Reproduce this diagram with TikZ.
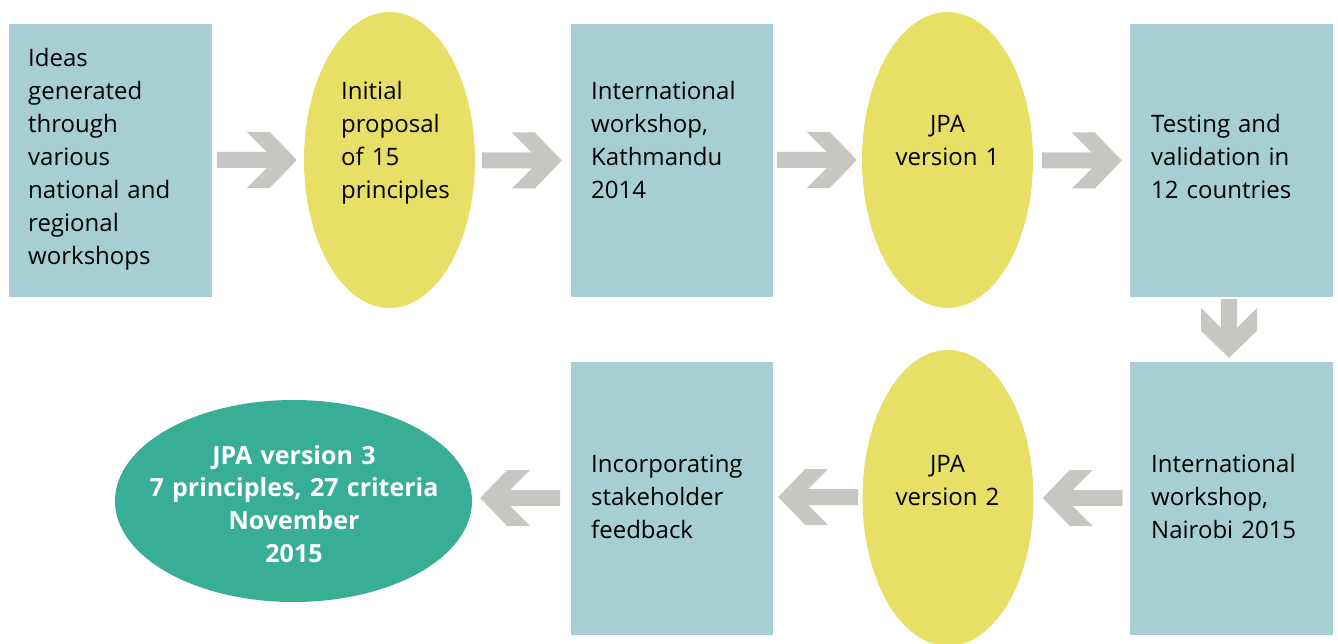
\documentclass[tikz,border=0pt]{standalone}
\usepackage{fontspec}
\setmainfont{Open Sans}
\usetikzlibrary{shapes.geometric,calc}
\definecolor{boxteal}{HTML}{A7CFD3}
\definecolor{ovalyellow}{HTML}{E8DF67}
\definecolor{arrowgray}{HTML}{C7C6C2}
\definecolor{finalgreen}{HTML}{37AE95}
\tikzset{
  tealbox/.style={rectangle, fill=boxteal, draw=none, inner sep=0pt},
  yellowoval/.style={ellipse, fill=ovalyellow, draw=none, inner sep=0pt, minimum width=171pt, minimum height=296pt},
  greenoval/.style={ellipse, fill=finalgreen, draw=none, inner sep=0pt, minimum width=357pt, minimum height=202pt},
  lbl/.style={inner sep=0pt, font=\fontsize{24}{33}\selectfont, text width=190pt, align=left, anchor=base west},
  clbl/.style={inner sep=0pt, font=\fontsize{24}{33}\selectfont, text width=320pt, align=center, anchor=base},
  pics/chev/.style={code={
    \fill[arrowgray] (0,0) -- (-27,-28) -- (-50,-28) -- (-30,-8) -- (-#1,-8) -- (-#1,8) -- (-30,8) -- (-50,28) -- (-27,28) -- cycle;
  }}
}
\begin{document}
\begin{tikzpicture}[x=1pt,y=-1pt]
\useasboundingbox (0,0) rectangle (1338,644);
% shapes
\node[tealbox, minimum width=203pt, minimum height=273pt] (b1) at (110.5,160.5) {};
\node[yellowoval] (e1) at (389.5,160) {};
\node[tealbox, minimum width=202pt, minimum height=273pt] (b2) at (672,160.5) {};
\node[yellowoval] (e2) at (947.5,160) {};
\node[tealbox, minimum width=203pt, minimum height=273pt] (b3) at (1231.5,160.5) {};
\node[tealbox, minimum width=203pt, minimum height=273pt] (b4) at (1231.5,498.5) {};
\node[yellowoval] (e3) at (948,498) {};
\node[tealbox, minimum width=202pt, minimum height=273pt] (b5) at (672,498.5) {};
\node[greenoval] (g) at (293.5,501) {};
% labels
\node[lbl] (t1) at (28,67) {Ideas\\generated\\through\\various\\national and\\regional\\workshops};
\node[lbl] (t2) at (341,100) {Initial\\proposal\\of 15\\principles};
\node[lbl] (t3) at (591,100) {International\\workshop,\\Kathmandu\\2014};
\node[clbl] (t4) at (947.5,133) {JPA\\version 1};
\node[lbl] (t5) at (1151,133) {Testing and\\validation in\\12 countries};
\node[lbl] (t6) at (1151,472) {International\\workshop,\\Nairobi 2015};
\node[clbl] (t7) at (947.5,472) {JPA\\version 2};
\node[lbl] (t8) at (591,472) {Incorporating\\stakeholder\\feedback};
\node[clbl, text=white, font=\fontsize{25}{32.7}\selectfont\bfseries] (t9) at (294,464) {JPA version 3\\7 principles, 27 criteria\\November\\2015};
% block arrows
\pic at ($(e1.west)+(-7,0)$) {chev=80};
\pic at ($(b2.west)+(-9,0)$) {chev=80};
\pic at ($(e2.west)+(-5,0)$) {chev=80};
\pic at ($(b3.west)+(-8,0)$) {chev=80};
\pic[rotate=-90] at ($(b4.north)+(-2.5,-4)$) {chev=59};
\pic[rotate=180] at ($(e3.east)+(9,0)$) {chev=80};
\pic[rotate=180] at ($(b5.east)+(5,-1.5)$) {chev=80};
\pic[rotate=180] at ($(g.east)+(8,-3)$) {chev=80};
\end{tikzpicture}
\end{document}
